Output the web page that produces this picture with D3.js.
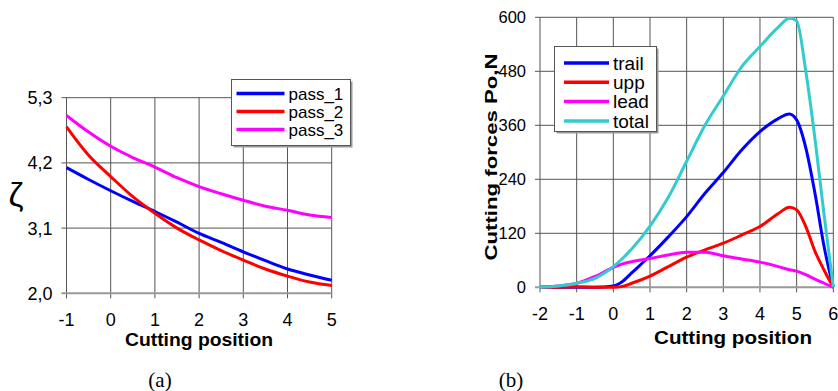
<!DOCTYPE html>
<html>
<head>
<meta charset="utf-8">
<script src="https://cdn.jsdelivr.net/npm/d3@7"></script>
<style>
  body { margin: 0; background: #fff; }
  text { font-family: Arial, "Liberation Sans", sans-serif; fill: #000; }
</style>
</head>
<body>
<svg id="chart" width="838" height="391"></svg>
<script>
// chart (a): zeta vs cutting position
var posA = [-1, -0.5, 0, 0.5, 1, 1.5, 2, 2.5, 3, 3.5, 4, 4.5, 5];
var pass1 = [4.12, 3.92, 3.73, 3.55, 3.38, 3.20, 3.01, 2.86, 2.70, 2.55, 2.41, 2.31, 2.22];
var pass2 = [4.81, 4.33, 3.97, 3.63, 3.35, 3.10, 2.90, 2.72, 2.56, 2.41, 2.29, 2.19, 2.13];
var pass3 = [5.00, 4.72, 4.48, 4.29, 4.13, 3.95, 3.80, 3.68, 3.57, 3.47, 3.40, 3.32, 3.28];
var ticksAx = [-1, 0, 1, 2, 3, 4, 5];
var ticksAy = [2.0, 3.1, 4.2, 5.3];

// chart (b): cutting forces
var posB = [-2, -1.5, -1, -0.5, 0, 0.25, 0.5, 1, 1.5, 2, 2.5, 3, 3.5, 4, 4.5, 4.8, 5, 5.25, 5.5, 5.75, 6];
var trail = [0, 0, 0, 0, 3, 13, 32, 70, 112, 157, 209, 255, 305, 346, 375, 385, 372, 310, 209, 90, 0];
var upp   = [0, 0, 1, 0, 0, 2, 9, 25, 46, 67, 83, 98, 116, 135, 164, 178, 172, 135, 80, 38, 0];
var lead  = [0, 3, 9, 24, 44, 52, 57, 64, 72, 78, 78, 70, 63, 56, 46, 39, 36, 28, 18, 9, 0];
var total = [0, 3, 9, 20, 46, 64, 85, 136, 200, 280, 360, 425, 490, 535, 578, 598, 592, 480, 330, 160, 0];
var ticksBx = [-2, -1, 0, 1, 2, 3, 4, 5, 6];
var ticksBy = [0, 120, 240, 360, 480, 600];

var svg = d3.select("#chart");
svg.append("rect").attr("width", 838).attr("height", 391).attr("fill", "#fff");

function drawPanel(cfg) {
  var g = svg.append("g");
  var x = d3.scaleLinear().domain(cfg.xDom).range(cfg.xRange);
  var y = d3.scaleLinear().domain(cfg.yDom).range(cfg.yRange);

  // grid
  g.selectAll(".gx").data(cfg.xTicks).enter().append("line")
    .attr("x1", d => x(d)).attr("x2", d => x(d))
    .attr("y1", cfg.yRange[1]).attr("y2", cfg.yRange[0] + 5)
    .attr("stroke", "#555").attr("stroke-width", 1);
  g.selectAll(".gy").data(cfg.yTicks).enter().append("line")
    .attr("x1", cfg.xRange[0] - 5).attr("x2", cfg.xRange[1])
    .attr("y1", d => y(d)).attr("y2", d => y(d))
    .attr("stroke", (d, i) => i == 0 ? "#999" : "#555")
    .attr("stroke-width", (d, i) => i == 0 ? 2 : 1);

  // tick labels
  g.selectAll(".ty").data(cfg.yTicks).enter().append("text")
    .attr("x", cfg.xRange[0] - 14).attr("y", d => y(d))
    .attr("dy", "0.36em").attr("text-anchor", "end")
    .attr("font-size", cfg.yFont)
    .text(cfg.yFmt);
  g.selectAll(".tx").data(cfg.xTicks).enter().append("text")
    .attr("x", d => x(d)).attr("y", cfg.xLabY)
    .attr("text-anchor", "middle")
    .attr("font-size", cfg.xFont)
    .text(d => d);

  // series
  var line = d3.line().x(d => x(d[0])).y(d => y(d[1])).curve(d3.curveMonotoneX);
  cfg.series.forEach(s => {
    g.append("path")
      .datum(cfg.pos.map((p, i) => [p, s.values[i]]))
      .attr("d", line)
      .attr("fill", "none").attr("stroke", s.color)
      .attr("stroke-width", 3).attr("stroke-linejoin", "round");
  });

  // legend
  var L = cfg.legend;
  g.append("rect").attr("x", L.x + 2).attr("y", L.y + 2).attr("width", L.w).attr("height", L.h)
    .attr("fill", "#999");
  g.append("rect").attr("x", L.x).attr("y", L.y).attr("width", L.w).attr("height", L.h)
    .attr("fill", "#fff").attr("stroke", "#555").attr("stroke-width", 1);
  cfg.series.forEach((s, i) => {
    var yy = L.y + L.first + i * L.step;
    g.append("line").attr("x1", L.x + L.lx0).attr("x2", L.x + L.lx1)
      .attr("y1", yy).attr("y2", yy)
      .attr("stroke", s.color).attr("stroke-width", 3.5);
    g.append("text").attr("x", L.x + L.lx1 + 4).attr("y", yy).attr("dy", "0.36em")
      .attr("font-size", L.font).text(s.name);
  });

  // x title
  g.append("text").attr("x", cfg.xTitle.x).attr("y", cfg.xTitle.y)
    .attr("text-anchor", "middle").attr("font-weight", "bold")
    .attr("font-size", cfg.xTitle.size)
    .attr("textLength", cfg.xTitle.len).attr("lengthAdjust", "spacingAndGlyphs")
    .text("Cutting position");
}

drawPanel({
  xDom: [-1, 5], xRange: [66.5, 331.7],
  yDom: [2.0, 5.3], yRange: [293.3, 97.7],
  xTicks: ticksAx, yTicks: ticksAy,
  yFmt: d => d.toFixed(1).replace(".", ","), yFont: 18, xFont: 18, xLabY: 326,
  pos: posA,
  series: [
    { name: "pass_1", values: pass1, color: "#0000ff" },
    { name: "pass_2", values: pass2, color: "#ff0000" },
    { name: "pass_3", values: pass3, color: "#ff00ff" }
  ],
  legend: { x: 231.5, y: 79.5, w: 119, h: 66, first: 14, step: 18, lx0: 5, lx1: 53, font: 17 },
  xTitle: { x: 199, y: 346, size: 19, len: 148 }
});

drawPanel({
  xDom: [-2, 6], xRange: [540, 833.3],
  yDom: [0, 600], yRange: [287.3, 17.3],
  xTicks: ticksBx, yTicks: ticksBy,
  yFmt: d => d, yFont: 16.5, xFont: 18, xLabY: 320,
  pos: posB,
  series: [
    { name: "trail", values: trail, color: "#0000ff" },
    { name: "upp", values: upp, color: "#ff0000" },
    { name: "lead", values: lead, color: "#ff00ff" },
    { name: "total", values: total, color: "#33cccc" }
  ],
  legend: { x: 554.5, y: 46.5, w: 102, h: 85, first: 16.5, step: 19.3, lx0: 9.5, lx1: 54.5, font: 19 },
  xTitle: { x: 733, y: 344, size: 19, len: 158 }
});

// y titles
svg.append("text").attr("x", 16).attr("y", 194).attr("dy", "0.35em")
  .attr("text-anchor", "middle").attr("font-size", 34).text("ζ");
svg.append("text")
  .attr("transform", "translate(497,157) rotate(-90)")
  .attr("text-anchor", "middle").attr("font-weight", "bold").attr("font-size", 17)
  .attr("textLength", 207).attr("lengthAdjust", "spacingAndGlyphs")
  .text("Cutting forces Po,N");

// captions
svg.selectAll(".cap").data([["(a)", 160], ["(b)", 511]]).enter().append("text")
  .attr("x", d => d[1]).attr("y", 387).attr("text-anchor", "middle")
  .style("font-family", "'Liberation Serif', 'Times New Roman', serif")
  .attr("font-size", 21).text(d => d[0]);
</script>
</body>
</html>
